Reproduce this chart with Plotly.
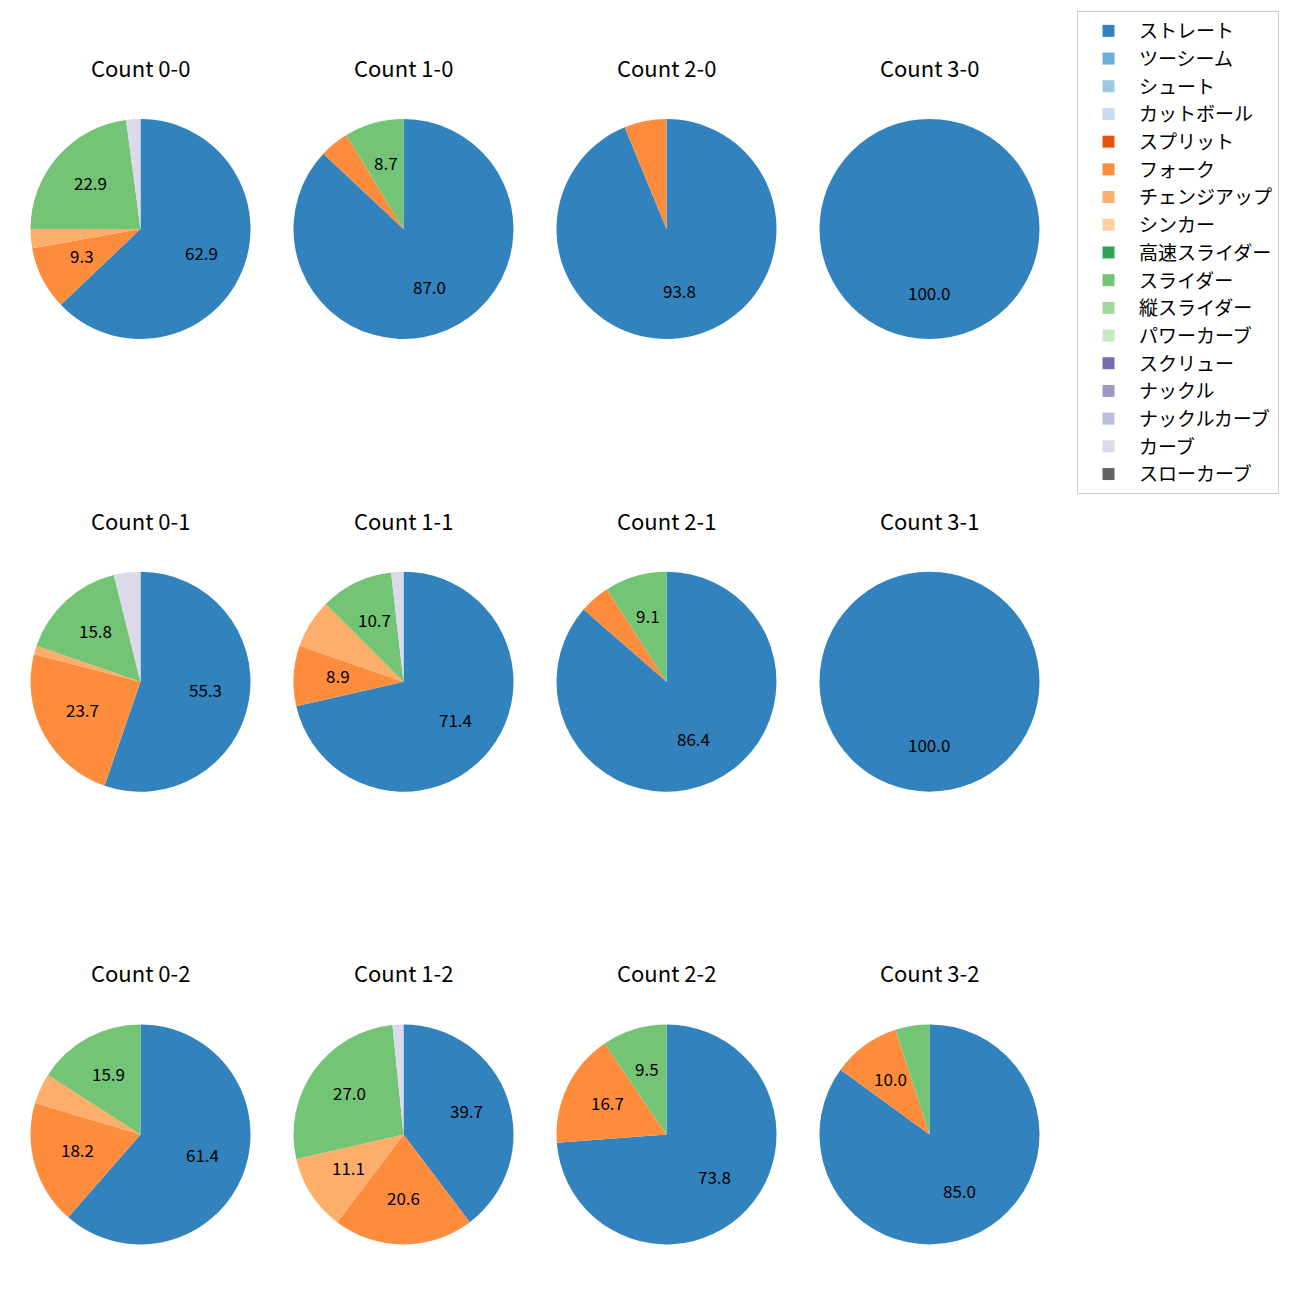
import math
import plotly.graph_objects as go

pitch_types = ["ストレート", "ツーシーム", "シュート", "カットボール", "スプリット", "フォーク",
               "チェンジアップ", "シンカー", "高速スライダー", "スライダー", "縦スライダー",
               "パワーカーブ", "スクリュー", "ナックル", "ナックルカーブ", "カーブ", "スローカーブ"]
pitch_colors = ["#3182bd", "#6baed6", "#9ecae1", "#c6dbef", "#e6550d", "#fd8d3c", "#fdae6b",
                "#fdd0a2", "#31a354", "#74c476", "#a1d99b", "#c7e9c0", "#756bb1", "#9e9ac8",
                "#bcbddc", "#dadaeb", "#636363"]

titles = ["Count 0-0", "Count 1-0", "Count 2-0", "Count 3-0",
          "Count 0-1", "Count 1-1", "Count 2-1", "Count 3-1",
          "Count 0-2", "Count 1-2", "Count 2-2", "Count 3-2"]

# percentages per pitch type (order of pitch_types)
count_0_0 = [62.9, 0, 0, 0, 0, 9.3, 2.8, 0, 0, 22.9, 0, 0, 0, 0, 0, 2.1, 0]
count_1_0 = [87.0, 0, 0, 0, 0, 4.3, 0, 0, 0, 8.7, 0, 0, 0, 0, 0, 0, 0]
count_2_0 = [93.8, 0, 0, 0, 0, 6.2, 0, 0, 0, 0, 0, 0, 0, 0, 0, 0, 0]
count_3_0 = [100.0, 0, 0, 0, 0, 0, 0, 0, 0, 0, 0, 0, 0, 0, 0, 0, 0]
count_0_1 = [55.3, 0, 0, 0, 0, 23.7, 1.3, 0, 0, 15.8, 0, 0, 0, 0, 0, 3.9, 0]
count_1_1 = [71.4, 0, 0, 0, 0, 8.9, 7.2, 0, 0, 10.7, 0, 0, 0, 0, 0, 1.8, 0]
count_2_1 = [86.4, 0, 0, 0, 0, 4.5, 0, 0, 0, 9.1, 0, 0, 0, 0, 0, 0, 0]
count_3_1 = [100.0, 0, 0, 0, 0, 0, 0, 0, 0, 0, 0, 0, 0, 0, 0, 0, 0]
count_0_2 = [61.4, 0, 0, 0, 0, 18.2, 4.5, 0, 0, 15.9, 0, 0, 0, 0, 0, 0, 0]
count_1_2 = [39.7, 0, 0, 0, 0, 20.6, 11.1, 0, 0, 27.0, 0, 0, 0, 0, 0, 1.6, 0]
count_2_2 = [73.8, 0, 0, 0, 0, 16.7, 0, 0, 0, 9.5, 0, 0, 0, 0, 0, 0, 0]
count_3_2 = [85.0, 0, 0, 0, 0, 10.0, 0, 0, 0, 5.0, 0, 0, 0, 0, 0, 0, 0]

all_counts = [count_0_0, count_1_0, count_2_0, count_3_0,
              count_0_1, count_1_1, count_2_1, count_3_1,
              count_0_2, count_1_2, count_2_2, count_3_2]

W = H = 1300
OFF = 8  # page body margin
FONT = "Noto Sans CJK JP"
col_cx = [140.5, 403.5, 666.5, 929.5]
row_cy = [229, 681.7, 1134.4]
R = 110
LABEL_MIN = 8.0


def px(x):
    return (x - OFF) / W


def py(y):
    return 1 - (y - OFF) / H


fig = go.Figure()
annotations = []
for i, vals in enumerate(all_counts):
    r_i, c_i = divmod(i, 4)
    cx, cy = col_cx[c_i], row_cy[r_i]
    fig.add_trace(go.Pie(
        labels=pitch_types,
        values=vals,
        marker=dict(colors=pitch_colors, line=dict(width=0)),
        sort=False,
        direction="clockwise",
        rotation=0,
        textinfo="none",
        hoverinfo="label+percent",
        showlegend=(i == 0),
        domain=dict(x=[px(cx - R), px(cx + R)], y=[py(cy + R), py(cy - R)]),
    ))
    annotations.append(dict(
        text=titles[i], x=px(cx), y=py(cy - 162), xref="paper", yref="paper",
        xanchor="center", yanchor="middle", showarrow=False,
        font=dict(family=FONT, size=22, color="#000000"),
    ))
    total = sum(vals)
    cum = 0.0
    for v in vals:
        if v <= 0:
            continue
        a0 = 90 - 360 * cum / total
        a1 = a0 - 360 * v / total
        cum += v
        pct = 100 * v / total
        if pct < LABEL_MIN:
            continue
        mid = math.radians((a0 + a1) / 2)
        lx = cx + 0.6 * R * math.cos(mid)
        ly = cy - 0.6 * R * math.sin(mid)
        annotations.append(dict(
            text=f"{pct:.1f}", x=px(lx), y=py(ly - 3), xref="paper", yref="paper",
            xanchor="center", yanchor="middle", showarrow=False,
            font=dict(family=FONT, size=17, color="#000000"),
        ))

fig.update_layout(
    width=W, height=H,
    margin=dict(l=0, r=0, t=0, b=0),
    paper_bgcolor="white",
    plot_bgcolor="white",
    font=dict(family=FONT, color="#000000"),
    annotations=annotations,
    legend=dict(
        x=px(1077), y=py(11), xanchor="left", yanchor="top",
        bordercolor="#cccccc", borderwidth=1, bgcolor="white",
        font=dict(family=FONT, size=19, color="#000000"),
        itemwidth=51,
    ),
)

fig.write_html("out.html")
